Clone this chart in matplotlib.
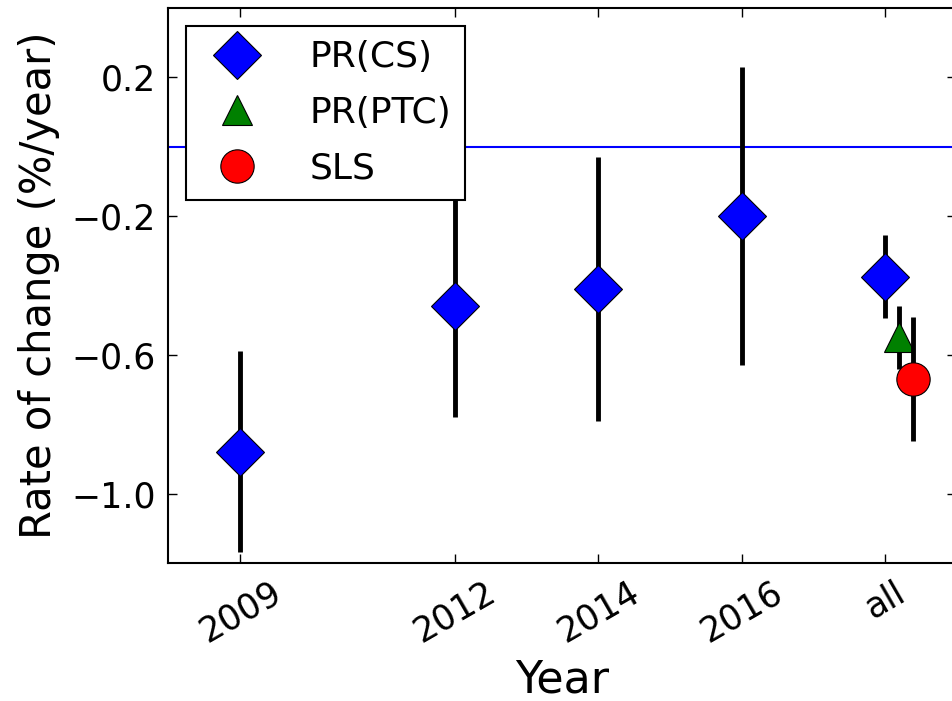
# Rate of change per year, with errorbars, for each campaign
import matplotlib.pyplot as plt

years = [2009, 2012, 2014, 2016, 2018]
tick_labels = ['2009', '2012', '2014', '2016', 'all']

pr_cs = [-0.88, -0.46, -0.41, -0.20, -0.375]
pr_cs_err = [0.29, 0.32, 0.38, 0.43, 0.12]

pr_ptc_x = [2018.2]
pr_ptc = [-0.55]
pr_ptc_err = [0.09]

sls_x = [2018.4]
sls = [-0.67]
sls_err = [0.18]

plt.rcParams['font.family'] = 'DejaVu Sans'

fig = plt.figure(figsize=(9.53, 7.01), dpi=100)
# right spine sits just past the figure edge, as in the original crop
ax = fig.add_axes([0.1767, 0.197, 0.8269, 0.792])

ax.axhline(0, color='b', lw=1.5, zorder=1)

ax.errorbar(years, pr_cs, yerr=pr_cs_err, fmt='none', ecolor='k', elinewidth=3.5, zorder=2)
ax.plot(years, pr_cs, 'D', color='b', mec='k', mew=0.8, ms=24, label='PR(CS)', zorder=3)

ax.errorbar(pr_ptc_x, pr_ptc, yerr=pr_ptc_err, fmt='none', ecolor='k', elinewidth=3.5, zorder=4)
ax.plot(pr_ptc_x, pr_ptc, '^', color='g', mec='k', mew=0.8, ms=22, label='PR(PTC)', zorder=5)

ax.errorbar(sls_x, sls, yerr=sls_err, fmt='none', ecolor='k', elinewidth=3.5, zorder=6)
ax.plot(sls_x, sls, 'o', color='r', mec='k', mew=0.8, ms=24, label='SLS', zorder=7)

ax.set_xlim(2008, 2019)
ax.set_ylim(-1.2, 0.4)
ax.set_xticks(years)
ax.set_xticklabels(tick_labels, rotation=30)
ax.set_yticks([0.2, -0.2, -0.6, -1.0])
ax.set_yticklabels(['0.2', '\u22120.2', '\u22120.6', '\u22121.0'])
ax.tick_params(direction='in', top=True, right=True, length=6.5, width=1,
               labelsize=25, pad=9)
for s in ax.spines.values():
    s.set_linewidth(1.5)

ax.set_xlabel('Year', fontsize=32, labelpad=7)
ax.set_ylabel('Rate of change (%/year)', fontsize=30, labelpad=8)

leg = ax.legend(loc='upper left', numpoints=1, fontsize=26, fancybox=False,
                framealpha=1, edgecolor='k', handlelength=2, handletextpad=1.0,
                borderaxespad=0.5, borderpad=0.4, labelspacing=0.6)
leg.get_frame().set_linewidth(1.5)

fig.savefig('out.png', dpi=100)
